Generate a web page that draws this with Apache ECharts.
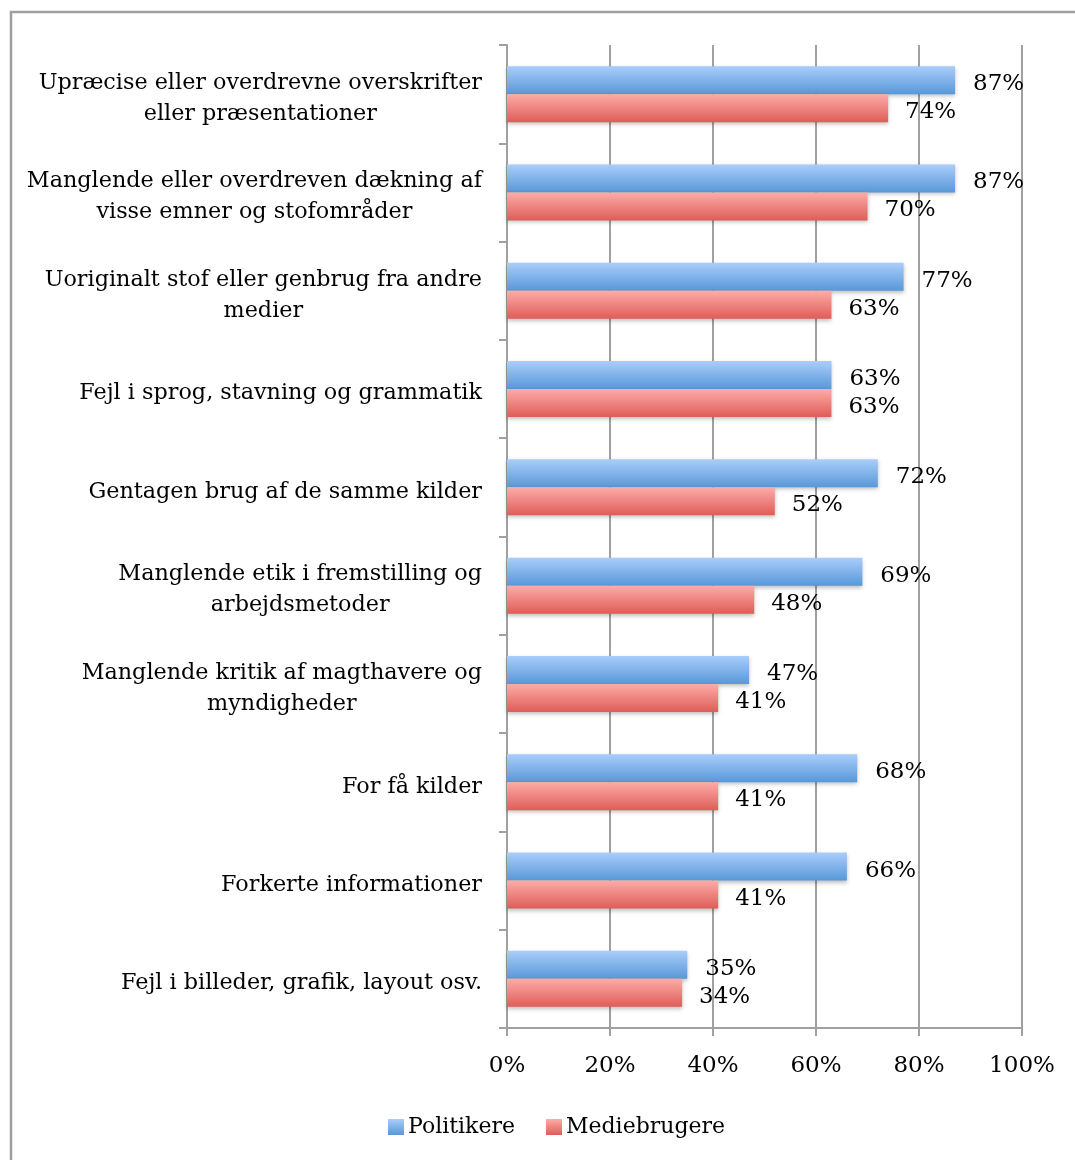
<!DOCTYPE html>
<html><head><meta charset="utf-8">
<script src="https://cdn.jsdelivr.net/npm/echarts@6/dist/echarts.min.js"></script>
<style>html,body{margin:0;padding:0;background:#fff}#c{width:1075px;height:1160px}</style>
</head><body><div id="c"></div>
<script>
const categories = [
  "Upræcise eller overdrevne overskrifter\neller præsentationer",
  "Manglende eller overdreven dækning af\nvisse emner og stofområder",
  "Uoriginalt stof eller genbrug fra andre\nmedier",
  "Fejl i sprog, stavning og grammatik",
  "Gentagen brug af de samme kilder",
  "Manglende etik i fremstilling og\narbejdsmetoder",
  "Manglende kritik af magthavere og\nmyndigheder",
  "For få kilder",
  "Forkerte informationer",
  "Fejl i billeder, grafik, layout osv."
];
const politikere = [87, 87, 77, 63, 72, 69, 47, 68, 66, 35];
const mediebrugere = [74, 70, 63, 63, 52, 48, 41, 41, 41, 34];
const xTicks = [0, 20, 40, 60, 80, 100];

const FONT = '"DejaVu Serif", "Liberation Serif", serif';
const FS = 23;
const mkGrad = (a, b) => new echarts.graphic.LinearGradient(0,0,0,1,[{offset:0,color:a},{offset:1,color:b}]);
const BLUE = ['#aacdfb', '#5898d8'];
const RED = ['#fdaca9', '#de5d57'];

const chart = echarts.init(document.getElementById('c'), null, {renderer:'canvas'});
chart.setOption({
  animation: false,
  backgroundColor: '#fff',
  graphic: [{
    type: 'rect', shape: {x: 11, y: 12, width: 1200, height: 1300},
    style: {fill: 'none', stroke: '#a0a0a0', lineWidth: 2.5}, silent: true
  }],
  grid: {left: 507, right: 53, top: 45, bottom: 132, containLabel: false},
  legend: {
    bottom: 17, left: 383, itemWidth: 16, itemHeight: 16, itemGap: 31,
    textStyle: {fontFamily: FONT, fontSize: 22, color: '#000', padding: [4, 0, 0, -1]},
    data: [
      {name:'Politikere', icon:'rect', itemStyle:{color: mkGrad(BLUE[0], BLUE[1])}},
      {name:'Mediebrugere', icon:'rect', itemStyle:{color: mkGrad(RED[0], RED[1])}}
    ]
  },
  xAxis: {
    type: 'value', min: 0, max: 100, interval: 20,
    axisLine: {show: true, lineStyle: {color: '#a0a0a0', width: 2}},
    axisTick: {show: true, length: 8, lineStyle: {color: '#a0a0a0', width: 2}},
    splitLine: {show: true, lineStyle: {color: '#a0a0a0', width: 2}},
    axisLabel: {fontFamily: FONT, fontSize: FS, color: '#000', margin: 27,
      formatter: v => xTicks.includes(v) ? v + '%' : ''}
  },
  yAxis: {
    type: 'category', data: categories, inverse: true,
    axisLine: {show: true, lineStyle: {color: '#a0a0a0', width: 2}},
    axisTick: {show: true, length: 8, lineStyle: {color: '#a0a0a0', width: 2}},
    axisLabel: {
      margin: 25, align: 'right', padding: [9, 0, 0, 0],
      formatter: v => v.split('\n').map(l => '{c|' + l + '}').join('\n'),
      rich: {c: {align: 'center', fontFamily: FONT, fontSize: 22.3, color: '#000', lineHeight: 31}}
    }
  },
  series: [
    {
      name: 'Politikere', type: 'bar', data: politikere, barWidth: 28, barGap: '0%',
      itemStyle: {color: mkGrad(BLUE[0], BLUE[1]), shadowColor: 'rgba(0,0,0,0.25)', shadowBlur: 4, shadowOffsetY: 2},
      label: {show: true, position: 'right', distance: 18, offset: [0, 4], formatter: '{c}%', fontFamily: FONT, fontSize: FS, color: '#000'}
    },
    {
      name: 'Mediebrugere', type: 'bar', data: mediebrugere, barWidth: 28, barGap: '0%',
      itemStyle: {color: mkGrad(RED[0], RED[1]), shadowColor: 'rgba(0,0,0,0.25)', shadowBlur: 4, shadowOffsetY: 2},
      label: {show: true, position: 'right', distance: 17, offset: [0, 4], formatter: '{c}%', fontFamily: FONT, fontSize: FS, color: '#000'}
    }
  ]
});
</script></body></html>
